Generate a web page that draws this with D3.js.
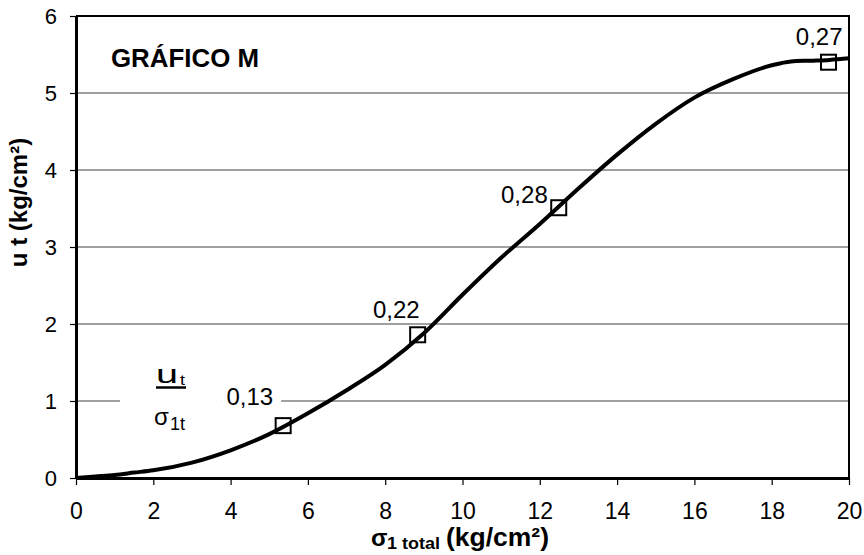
<!DOCTYPE html>
<html>
<head>
<meta charset="utf-8"/>
<script src="https://d3js.org/d3.v7.min.js"></script>
<style>
  body { margin: 0; background: #fff; }
  svg { font-family: Arial, "Liberation Sans", sans-serif; }
</style>
</head>
<body>
<div id="chart"></div>
<script>
// curve
var curveX = [0, 0.5, 1, 1.5, 2, 3, 4, 5, 6, 7, 8, 9, 10, 11, 12, 13, 14, 15, 16, 17, 18, 18.5, 19, 19.5, 20];
var curveY = [0, 0.02, 0.04, 0.07, 0.1, 0.2, 0.36, 0.57, 0.84, 1.14, 1.47, 1.88, 2.38, 2.86, 3.3, 3.76, 4.2, 4.6, 4.94, 5.18, 5.36, 5.41, 5.42, 5.43, 5.45];

// marked points and their ratio labels
var markX = [5.36, 8.84, 12.49, 19.47];
var markY = [0.68, 1.86, 3.51, 5.40];
var markLabels = ["0,13", "0,22", "0,28", "0,27"];

var xTicks = [0, 2, 4, 6, 8, 10, 12, 14, 16, 18, 20];
var yTicks = [0, 1, 2, 3, 4, 5, 6];

var W = 864, H = 555;
var pLeft = 76, pRight = 849, pTop = 16, pBottom = 478;

// where each data label sits relative to its marker (right edge, baseline)
var labelOffset = [[-10, -21], [2, -17], [-11, -5], [14, -17]];

var svg = d3.select("#chart").append("svg")
    .attr("width", W)
    .attr("height", H);

var x = d3.scaleLinear().domain([0, 20]).range([pLeft, pRight]);
var y = d3.scaleLinear().domain([0, 6]).range([pBottom, pTop]);

// gridlines
svg.append("g").selectAll("line")
    .data(yTicks.filter(function(d) { return d > 0 && d < 6; }))
    .enter().append("line")
    .attr("x1", pLeft).attr("x2", pRight)
    .attr("y1", function(d) { return y(d); })
    .attr("y2", function(d) { return y(d); })
    .attr("stroke", "#808080")
    .attr("stroke-width", 1.5);

// legend box (white background cuts the gridline)
svg.append("rect")
    .attr("x", 120).attr("y", 368).attr("width", 101).attr("height", 68)
    .attr("fill", "#fff");

// frame top / right
svg.append("path")
    .attr("d", "M" + pLeft + "," + pTop + "H" + pRight + "V" + pBottom)
    .attr("fill", "none").attr("stroke", "#000").attr("stroke-width", 2);

// axes
var xAxis = svg.append("g")
    .attr("transform", "translate(0," + pBottom + ")")
    .call(d3.axisBottom(x).tickValues(xTicks).tickSizeInner(7).tickSizeOuter(0)
        .tickPadding(17).tickFormat(d3.format("d")));
var yAxis = svg.append("g")
    .attr("transform", "translate(" + pLeft + ",0)")
    .call(d3.axisLeft(y).tickValues(yTicks).tickSizeInner(6).tickSizeOuter(0)
        .tickPadding(13).tickFormat(d3.format("d")));

xAxis.attr("font-size", 23);
yAxis.attr("font-size", 22);
[xAxis, yAxis].forEach(function(a) {
  a.attr("font-family", "Arial, 'Liberation Sans', sans-serif");
  a.select(".domain").attr("stroke", "#000").attr("stroke-width", 3);
  a.selectAll(".tick line").attr("stroke", "#000").attr("stroke-width", 1.2);
  a.selectAll("text").attr("fill", "#000");
});
yAxis.selectAll("text").attr("dy", "0.36em");
xAxis.selectAll("text").attr("dy", "0.72em");

// curve
var pts = curveX.map(function(d, i) { return [d, curveY[i]]; });
svg.append("path")
    .datum(pts)
    .attr("fill", "none")
    .attr("stroke", "#000")
    .attr("stroke-width", 4)
    .attr("d", d3.line()
        .x(function(d) { return x(d[0]); })
        .y(function(d) { return y(d[1]); })
        .curve(d3.curveMonotoneX));

// markers
svg.append("g").selectAll("rect")
    .data(markX)
    .enter().append("rect")
    .attr("x", function(d) { return x(d) - 7.5; })
    .attr("y", function(d, i) { return y(markY[i]) - 7.5; })
    .attr("width", 15).attr("height", 15)
    .attr("fill", "none")
    .attr("stroke", "#000")
    .attr("stroke-width", 2);

// data labels
var lab = svg.append("g").selectAll("g")
    .data(markLabels)
    .enter().append("g")
    .attr("transform", function(d, i) {
      return "translate(" + (x(markX[i]) + labelOffset[i][0]) + "," +
          (y(markY[i]) + labelOffset[i][1]) + ")";
    });
lab.append("rect")
    .attr("x", -52).attr("y", -18).attr("width", 60).attr("height", 24)
    .attr("fill", function(d, i) { return i == 0 ? "#fff" : "none"; });
lab.append("text")
    .attr("text-anchor", "end")
    .attr("font-size", 24)
    .text(function(d) { return d; });

// chart title
svg.append("text")
    .attr("x", 111).attr("y", 67)
    .attr("font-size", 25).attr("font-weight", "bold")
    .attr("textLength", 148).attr("lengthAdjust", "spacingAndGlyphs")
    .text("GRÁFICO M");

// ratio legend u_t / sigma_1t
var leg = svg.append("g");
leg.append("text").attr("x", 156).attr("y", 383).attr("font-size", 26)
    .attr("textLength", 22).attr("lengthAdjust", "spacingAndGlyphs").text("u");
leg.append("text").attr("x", 180).attr("y", 385).attr("font-size", 15)
    .attr("textLength", 5).attr("lengthAdjust", "spacingAndGlyphs").text("t");
leg.append("line")
    .attr("x1", 156).attr("x2", 186).attr("y1", 387.5).attr("y2", 387.5)
    .attr("stroke", "#000").attr("stroke-width", 2.5);
leg.append("text").attr("x", 154).attr("y", 425).attr("font-size", 24)
    .text("σ");
leg.append("text").attr("x", 170).attr("y", 430).attr("font-size", 18)
    .text("1t");

// axis titles
svg.append("text")
    .attr("transform", "translate(27,202.5) rotate(-90)")
    .attr("text-anchor", "middle")
    .attr("font-size", 24).attr("font-weight", "bold")
    .text("u t (kg/cm²)");

var xt = svg.append("g").attr("font-weight", "bold");
xt.append("text").attr("x", 371).attr("y", 546).attr("font-size", 24)
    .text("σ");
xt.append("text").attr("x", 387).attr("y", 549).attr("font-size", 17)
    .attr("textLength", 53).attr("lengthAdjust", "spacingAndGlyphs").text("1 total");
xt.append("text").attr("x", 446).attr("y", 546).attr("font-size", 25)
    .attr("textLength", 103).attr("lengthAdjust", "spacingAndGlyphs").text("(kg/cm²)");
</script>
</body>
</html>
